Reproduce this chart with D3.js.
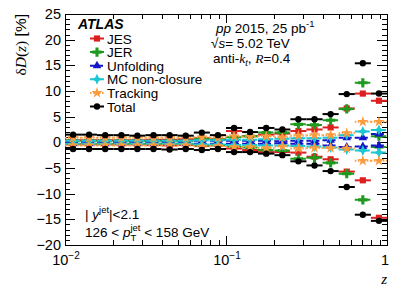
<!DOCTYPE html>
<html>
<head>
<meta charset="utf-8">
<script src="https://cdn.jsdelivr.net/npm/d3@7"></script>
<style>
  body { margin: 0; background: #fff; }
  svg { font-family: "Liberation Sans", Arial, sans-serif; }
</style>
</head>
<body>
<div id="chart"></div>
<script>
// z bin edges (log spaced)
const zEdges = [0.01, 0.0126, 0.0158, 0.02, 0.0251, 0.0316, 0.0398, 0.0501, 0.0631, 0.0794,
                0.1, 0.126, 0.158, 0.2, 0.251, 0.316, 0.398, 0.501, 0.631, 0.794, 1.0]

// relative uncertainties in %, up and down, one value per z bin
const jesUp     = [0.4, 0.4, 0.4, 0.4, 0.4, 0.5, 0.5, 0.6, 0.8, 0.6, 2.2, 1.2, 1.5, 1.7, 2.2, 2.5, 2.9, 6.6, 9.5, 8.1]
const jesDown   = [-0.4, -0.4, -0.4, -0.4, -0.4, -0.5, -0.6, -0.5, -0.7, -0.6, -1.2, -1.5, -1.9, -1.9, -2.0, -2.8, -3.3, -5.7, -7.4, -14.7]
const jerUp     = [0.3, 0.3, 0.3, 0.3, 0.3, 0.3, 0.3, 0.3, 0.7, 0.5, 1.0, 1.2, 1.9, 1.9, 3.5, 3.4, 4.3, 6.5, 11.6, 1.2]
const jerDown   = [-0.3, -0.3, -0.3, -0.3, -0.3, -0.3, -0.3, -0.3, -0.6, -0.5, -0.8, -1.0, -1.5, -1.6, -3.2, -3.0, -4.0, -6.1, -11.2, -0.9]
const unfUp     = [0.2, 0.2, 0.2, 0.2, 0.2, 0.2, 0.2, 0.2, 0.3, 0.3, 0.3, 0.3, 0.3, 0.2, 0.3, 0.3, 0.4, 0.9, 0.9, 1.6]
const unfDown   = [-0.2, -0.2, -0.2, -0.2, -0.2, -0.2, -0.2, -0.2, -0.3, -0.3, -0.3, -0.3, -0.3, -0.2, -0.3, -0.3, -0.6, -0.9, -0.8, -0.6]
const mcUp      = [0.3, 0.3, 0.3, 0.3, 0.3, 0.3, 0.3, 0.3, 0.4, 0.4, 0.5, 0.5, 0.6, 0.7, 0.8, 0.8, 0.9, 1.4, 2.1, 2.4]
const mcDown    = [-0.3, -0.3, -0.3, -0.3, -0.3, -0.3, -0.3, -0.3, -0.4, -0.4, -0.5, -0.5, -0.6, -0.6, -0.7, -0.8, -1.0, -1.4, -1.6, -2.0]
const trkUp     = [0.9, 0.9, 0.9, 0.9, 0.9, 0.9, 0.9, 0.9, 1.0, 0.9, 1.2, 1.1, 1.2, 1.0, 1.3, 1.4, 1.4, 1.8, 4.0, 4.0]
const trkDown   = [-0.6, -0.6, -0.6, -0.6, -0.6, -0.6, -0.6, -0.6, -0.8, -0.7, -0.9, -0.9, -1.1, -0.8, -1.2, -1.1, -1.1, -1.2, -3.6, -3.6]
const totUp     = [1.5, 1.5, 1.4, 1.4, 1.3, 1.4, 1.4, 1.3, 1.9, 1.4, 2.8, 2.0, 2.8, 2.5, 4.5, 4.5, 5.5, 9.4, 15.4, 9.5]
const totDown   = [-1.3, -1.3, -1.3, -1.3, -1.3, -1.3, -1.4, -1.3, -1.5, -1.3, -1.9, -1.9, -2.2, -2.5, -3.7, -4.5, -5.6, -8.7, -14.1, -15.3]

const legendLabels = ['JES', 'JER', 'Unfolding', 'MC non-closure', 'Tracking', 'Total']
const yTicks = [-20, -15, -10, -5, 0, 5, 10, 15, 20, 25]
const yMinorTicks = [-19, -18, -17, -16, -14, -13, -12, -11, -9, -8, -7, -6, -4, -3, -2, -1,
                     1, 2, 3, 4, 6, 7, 8, 9, 11, 12, 13, 14, 16, 17, 18, 19, 21, 22, 23, 24]
const xTicks = [0.01, 0.1, 1]
const xTickExp = ['\u22122', '\u22121', '']
const xMinorTicks = [0.02, 0.03, 0.04, 0.05, 0.06, 0.07, 0.08, 0.09, 0.2, 0.3, 0.4, 0.5, 0.6, 0.7, 0.8, 0.9]

// 4-point star for MC non-closure
const star4 = 'M0,-5.5L1.7,-1.7L5.5,0L1.7,1.7L0,5.5L-1.7,1.7L-5.5,0L-1.7,-1.7Z'

const sources = [
  {up: jesUp, down: jesDown, color: '#dc1f1f', dash: null,        marker: d3.symbol(d3.symbolSquare, 38)()},
  {up: jerUp, down: jerDown, color: '#1e9b1e', dash: '5,2,1.5,2', marker: d3.symbol(d3.symbolCross, 48)()},
  {up: unfUp, down: unfDown, color: '#1414c8', dash: '5,3',       marker: d3.symbol(d3.symbolTriangle, 32)()},
  {up: mcUp,  down: mcDown,  color: '#1cc6d2', dash: '6,3',       marker: star4},
  {up: trkUp, down: trkDown, color: '#fb9b3e', dash: '1.5,1.5',   marker: d3.symbol(d3.symbolStar, 38)()},
  {up: totUp, down: totDown, color: '#000000', dash: null,        marker: d3.symbol(d3.symbolCircle, 32)()}
]

let dimensions = {
  width: 407,
  height: 292,
  margin: {top: 14, bottom: 47, left: 65, right: 20}
}

const svg = d3.select('#chart')
              .append('svg')
              .attr('width', dimensions.width)
              .attr('height', dimensions.height)

const x0 = dimensions.margin.left
const x1 = dimensions.width - dimensions.margin.right
const y0 = dimensions.margin.top
const y1 = dimensions.height - dimensions.margin.bottom

//Scales
const xScale = d3.scaleLog().domain([0.01, 1]).range([x0, x1])
const yScale = d3.scaleLinear().domain([-20, 25]).range([y1, y0])

//Axes (ticks inside the frame, on all four sides)
function tickAxis(axis, values, size, transform) {
  const g = svg.append('g')
               .attr('transform', transform)
               .call(axis.tickValues(values).tickSize(-size).tickFormat(''))
  g.select('.domain').remove()
  g.selectAll('line').attr('stroke', '#000').attr('shape-rendering', 'crispEdges')
  return g
}
tickAxis(d3.axisLeft(yScale), yTicks, 10, `translate(${x0},0)`)
tickAxis(d3.axisLeft(yScale), yMinorTicks, 5, `translate(${x0},0)`)
tickAxis(d3.axisRight(yScale), yTicks, 10, `translate(${x1},0)`)
tickAxis(d3.axisRight(yScale), yMinorTicks, 5, `translate(${x1},0)`)
tickAxis(d3.axisBottom(xScale), xTicks, 9, `translate(0,${y1})`)
tickAxis(d3.axisBottom(xScale), xMinorTicks, 5, `translate(0,${y1})`)
tickAxis(d3.axisTop(xScale), xTicks, 9, `translate(0,${y0})`)
tickAxis(d3.axisTop(xScale), xMinorTicks, 5, `translate(0,${y0})`)

svg.append('rect')
   .attr('x', x0).attr('y', y0)
   .attr('width', x1 - x0).attr('height', y1 - y0)
   .attr('fill', 'none').attr('stroke', '#000').attr('shape-rendering', 'crispEdges')

// y tick labels
svg.selectAll('.ylab')
   .data(yTicks)
   .join('text')
   .attr('x', x0 - 4)
   .attr('y', d => yScale(d) + 5)
   .attr('text-anchor', 'end')
   .attr('font-size', '14.5px')
   .text(d => d3.format('d')(d))

// x tick labels, 10^n
xTicks.forEach((t, i) => {
  const lab = svg.append('text')
                 .attr('y', y1 + 20)
                 .attr('font-size', '14.5px')
  if (xTickExp[i]) {
    lab.append('tspan').text('10')
    lab.append('tspan').attr('dy', -6).attr('font-size', '10px').text(xTickExp[i])
  } else {
    lab.text('1')
  }
  const w = lab.node().getComputedTextLength()
  lab.attr('x', xScale(t) - (xTickExp[i] ? w / 2 - 1 : w - 2))
})

// axis titles
svg.append('text')
   .attr('x', x1)
   .attr('y', 284)
   .attr('text-anchor', 'end')
   .attr('font-size', '15px')
   .attr('font-style', 'italic')
   .attr('font-family', '"Liberation Serif", serif')
   .text('z')

const yTitle = svg.append('text')
                  .attr('transform', `translate(26,${y0}) rotate(-90)`)
                  .attr('text-anchor', 'end')
                  .attr('font-size', '15.5px')
yTitle.append('tspan').attr('font-family', '"Liberation Serif", serif').text('\u03b4')
yTitle.append('tspan').attr('font-family', '"Liberation Serif", serif').attr('font-style', 'italic').text('D')
yTitle.append('tspan').attr('font-family', '"Liberation Serif", serif').text('(')
yTitle.append('tspan').attr('font-family', '"Liberation Serif", serif').attr('font-style', 'italic').text('z')
yTitle.append('tspan').attr('font-family', '"Liberation Serif", serif').text(')')
yTitle.append('tspan').text(' [%]')

//Data: horizontal bars spanning each z bin, marker at bin centre
const plot = svg.append('g')
sources.forEach(s => {
  const pts = []
  zEdges.slice(0, -1).forEach((lo, i) => {
    const hi = zEdges[i + 1]
    pts.push({lo, hi, v: s.up[i]})
    pts.push({lo, hi, v: s.down[i]})
  })
  const g = plot.append('g')
  g.selectAll('line')
   .data(pts)
   .join('line')
   .attr('x1', d => xScale(d.lo))
   .attr('x2', d => xScale(d.hi))
   .attr('y1', d => yScale(d.v))
   .attr('y2', d => yScale(d.v))
   .attr('stroke', s.color)
   .attr('stroke-width', 2)
   .attr('stroke-dasharray', s.dash)
  g.selectAll('path')
   .data(pts)
   .join('path')
   .attr('d', s.marker)
   .attr('transform', d => `translate(${xScale(Math.sqrt(d.lo * d.hi))},${yScale(d.v)})`)
   .attr('fill', s.color)
})

//Legend
svg.append('text')
   .attr('x', 78)
   .attr('y', 29)
   .attr('font-size', '14px')
   .attr('font-weight', 'bold')
   .attr('font-style', 'italic')
   .text('ATLAS')

const legend = svg.append('g')
legendLabels.forEach((lab, i) => {
  const cy = 38.5 + i * 13.6
  const s = sources[i]
  legend.append('line')
        .attr('x1', 90).attr('x2', 104)
        .attr('y1', cy).attr('y2', cy)
        .attr('stroke', s.color)
        .attr('stroke-width', 2)
        .attr('stroke-dasharray', s.dash)
  legend.append('path')
        .attr('d', s.marker)
        .attr('transform', `translate(97,${cy})`)
        .attr('fill', s.color)
  legend.append('text')
        .attr('x', 107)
        .attr('y', cy + 5)
        .attr('font-size', '13.5px')
        .text(lab)
})

// info text, top right
const t1 = svg.append('text').attr('x', 216).attr('y', 33).attr('font-size', '13.5px')
t1.append('tspan').attr('font-style', 'italic').text('pp')
t1.append('tspan').text(' 2015, 25 pb')
t1.append('tspan').attr('dy', -6).attr('font-size', '9.5px').text('-1')

const t2 = svg.append('text').attr('x', 211).attr('y', 48).attr('font-size', '13.5px')
t2.append('tspan').text('\u221a')
t2.append('tspan').attr('font-style', 'italic').text('s')
t2.append('tspan').text('= 5.02 TeV')

const t3 = svg.append('text').attr('x', 213).attr('y', 63).attr('font-size', '13.5px')
t3.append('tspan').text('anti-')
t3.append('tspan').attr('font-style', 'italic').attr('font-family', '"Liberation Serif", serif').text('k')
t3.append('tspan').attr('dy', 3).attr('font-size', '9px').attr('font-style', 'italic').text('t')
t3.append('tspan').attr('dy', -3).text(', ')
t3.append('tspan').attr('font-style', 'italic').attr('font-family', '"Liberation Serif", serif').text('R')
t3.append('tspan').text('=0.4')

// selection text, bottom left
const b1 = svg.append('text').attr('x', 85).attr('y', 219).attr('font-size', '13.5px')
b1.append('tspan').text('| ')
b1.append('tspan').attr('font-style', 'italic').text('y')
b1.append('tspan').attr('dy', -6).attr('font-size', '9.5px').text('jet')
b1.append('tspan').attr('dy', 6).text('|<2.1')

const b2 = svg.append('text').attr('x', 85).attr('y', 237).attr('font-size', '13.5px')
b2.append('tspan').text('126 < ')
b2.append('tspan').attr('font-style', 'italic').text('p')
b2.append('tspan').attr('dy', 4).attr('font-size', '9.5px').text('T')
b2.append('tspan').attr('dy', -10).attr('dx', -5.8).attr('font-size', '9.5px').text('jet')
b2.append('tspan').attr('dy', 6).text(' < 158 GeV')
</script>
</body>
</html>
